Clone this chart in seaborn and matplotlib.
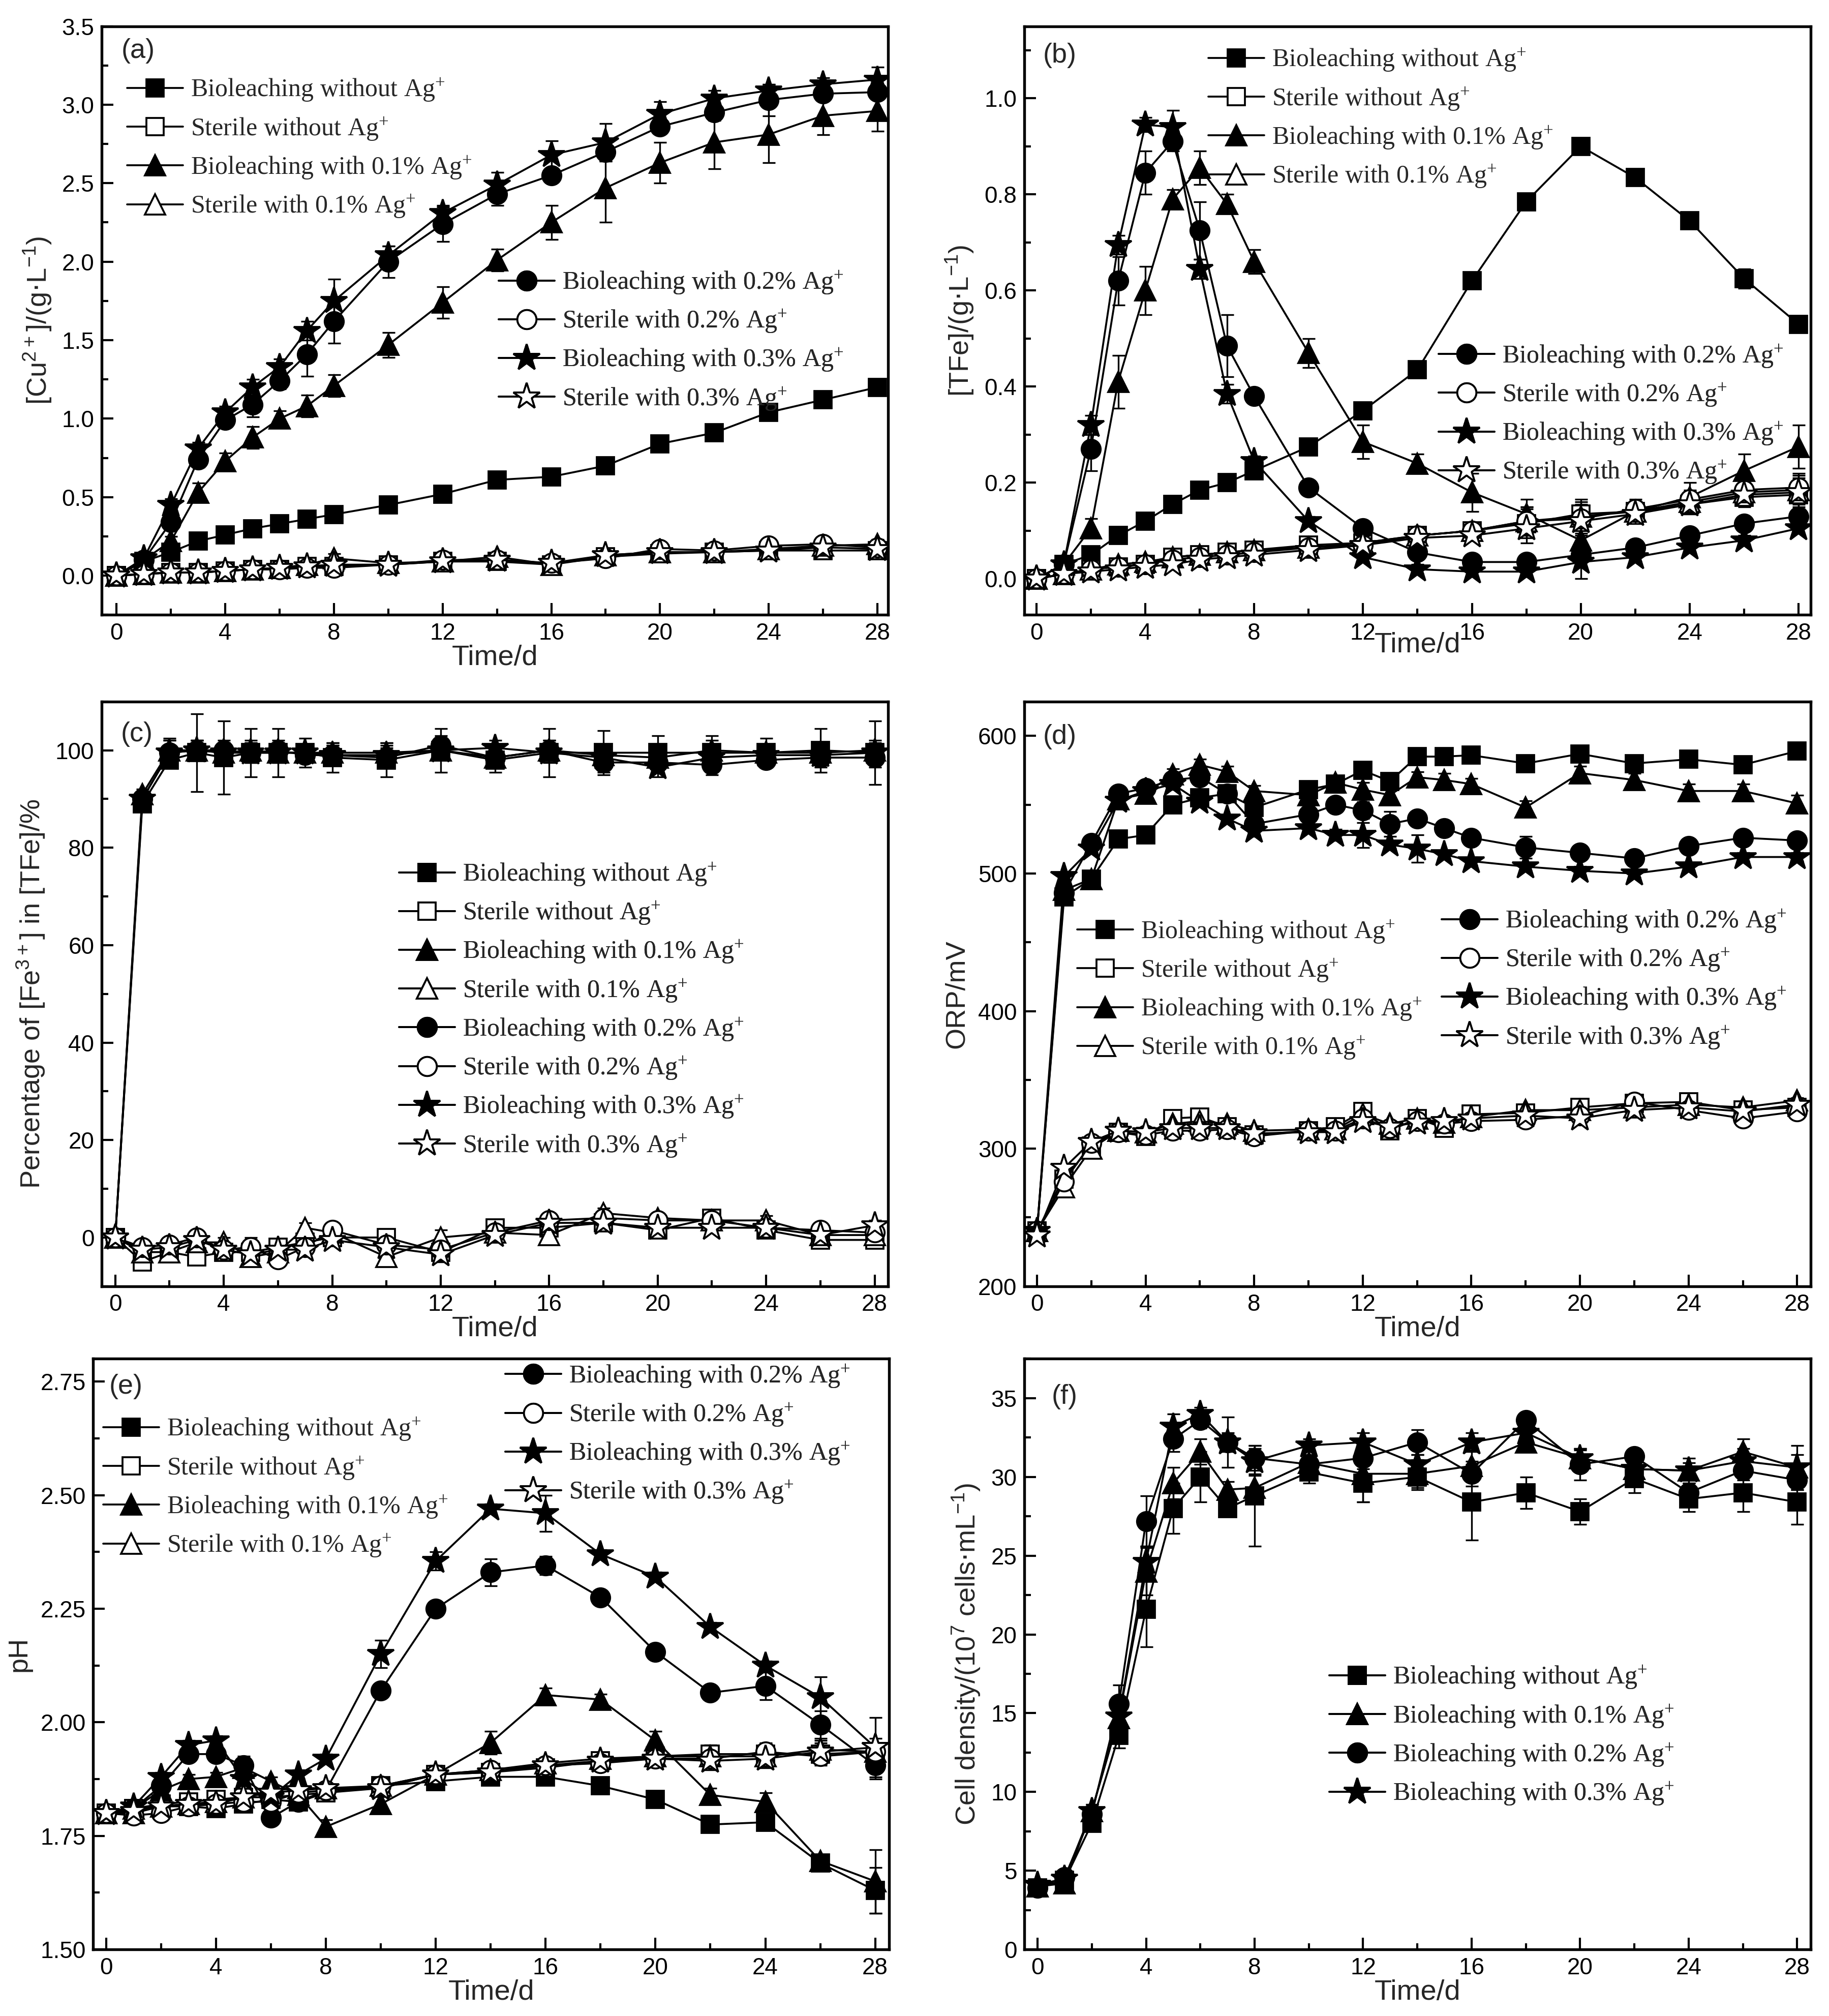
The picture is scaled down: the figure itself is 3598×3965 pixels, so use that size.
import numpy as np
import pandas as pd
import matplotlib
matplotlib.use('Agg')
import matplotlib.pyplot as plt
import seaborn as sns
from matplotlib.ticker import MultipleLocator, FormatStrFormatter

# sampling days
days = [0, 1, 2, 3, 4, 5, 6, 7, 8, 10, 12, 14, 16, 18, 20, 22, 24, 26, 28]
days_orp = [0, 1, 2, 3, 4, 5, 6, 7, 8, 10, 11, 12, 13, 14, 15, 16, 18, 20, 22, 24, 26, 28]

# (a) [Cu2+] g/L
cu_bio_none = [0.00, 0.09, 0.15, 0.22, 0.26, 0.30, 0.33, 0.36, 0.39, 0.45, 0.52, 0.61, 0.63, 0.70, 0.84, 0.91, 1.04, 1.12, 1.20]
cu_ster_none = [0.00, 0.01, 0.02, 0.02, 0.03, 0.04, 0.04, 0.06, 0.06, 0.07, 0.09, 0.09, 0.07, 0.12, 0.14, 0.15, 0.16, 0.16, 0.16]
cu_bio_01 = [0.00, 0.10, 0.22, 0.53, 0.73, 0.88, 1.00, 1.08, 1.21, 1.47, 1.74, 2.01, 2.25, 2.47, 2.63, 2.76, 2.81, 2.93, 2.96]
cu_ster_01 = [0.00, 0.01, 0.02, 0.02, 0.03, 0.04, 0.05, 0.07, 0.11, 0.08, 0.09, 0.12, 0.07, 0.13, 0.15, 0.15, 0.17, 0.19, 0.20]
cu_bio_02 = [0.00, 0.10, 0.34, 0.74, 0.99, 1.09, 1.24, 1.41, 1.62, 2.00, 2.24, 2.43, 2.55, 2.70, 2.86, 2.95, 3.03, 3.07, 3.08]
cu_ster_02 = [0.00, 0.01, 0.02, 0.02, 0.03, 0.04, 0.04, 0.05, 0.05, 0.07, 0.10, 0.10, 0.08, 0.11, 0.17, 0.16, 0.19, 0.20, 0.18]
cu_bio_03 = [0.00, 0.11, 0.45, 0.81, 1.04, 1.20, 1.33, 1.56, 1.75, 2.04, 2.31, 2.49, 2.68, 2.76, 2.94, 3.04, 3.09, 3.13, 3.16]
cu_ster_03 = [0.00, 0.01, 0.02, 0.02, 0.03, 0.04, 0.05, 0.06, 0.07, 0.07, 0.09, 0.10, 0.08, 0.13, 0.15, 0.15, 0.16, 0.18, 0.17]
cu_err_none = [0.01, 0.01, 0.02, 0.02, 0.02, 0.02, 0.02, 0.02, 0.02, 0.02, 0.02, 0.02, 0.02, 0.02, 0.02, 0.02, 0.02, 0.02, 0.02]
cu_err_01 = [0.01, 0.01, 0.03, 0.06, 0.05, 0.07, 0.05, 0.07, 0.07, 0.08, 0.10, 0.07, 0.11, 0.22, 0.13, 0.17, 0.18, 0.12, 0.13]
cu_err_02 = [0.01, 0.01, 0.04, 0.05, 0.04, 0.08, 0.05, 0.14, 0.14, 0.10, 0.11, 0.07, 0.04, 0.06, 0.04, 0.05, 0.10, 0.04, 0.03]
cu_err_03 = [0.01, 0.01, 0.04, 0.04, 0.04, 0.05, 0.05, 0.06, 0.14, 0.06, 0.05, 0.08, 0.09, 0.12, 0.08, 0.05, 0.04, 0.04, 0.08]
cu_err_ster = [0.03, 0.03, 0.03, 0.03, 0.03, 0.03, 0.03, 0.03, 0.03, 0.03, 0.03, 0.03, 0.03, 0.03, 0.03, 0.03, 0.03, 0.03, 0.03]

# (b) [TFe] g/L
fe_bio_none = [0.00, 0.03, 0.05, 0.09, 0.12, 0.155, 0.185, 0.20, 0.225, 0.275, 0.35, 0.435, 0.62, 0.785, 0.90, 0.835, 0.745, 0.625, 0.53]
fe_ster_none = [0.00, 0.01, 0.02, 0.025, 0.03, 0.045, 0.05, 0.055, 0.06, 0.07, 0.075, 0.09, 0.10, 0.115, 0.135, 0.14, 0.155, 0.17, 0.175]
fe_bio_01 = [0.00, 0.03, 0.105, 0.41, 0.60, 0.79, 0.855, 0.78, 0.66, 0.47, 0.285, 0.24, 0.18, 0.135, 0.08, 0.14, 0.17, 0.225, 0.275]
fe_ster_01 = [0.00, 0.01, 0.02, 0.03, 0.035, 0.045, 0.05, 0.055, 0.06, 0.065, 0.075, 0.09, 0.10, 0.12, 0.13, 0.14, 0.16, 0.18, 0.185]
fe_bio_02 = [0.00, 0.03, 0.27, 0.62, 0.845, 0.91, 0.725, 0.485, 0.38, 0.19, 0.105, 0.055, 0.035, 0.035, 0.05, 0.065, 0.09, 0.115, 0.13]
fe_ster_02 = [0.00, 0.01, 0.02, 0.025, 0.03, 0.04, 0.045, 0.05, 0.055, 0.065, 0.07, 0.09, 0.10, 0.12, 0.125, 0.145, 0.165, 0.185, 0.19]
fe_bio_03 = [0.00, 0.03, 0.32, 0.695, 0.945, 0.94, 0.645, 0.385, 0.245, 0.12, 0.045, 0.02, 0.015, 0.015, 0.035, 0.045, 0.065, 0.08, 0.105]
fe_ster_03 = [0.00, 0.01, 0.015, 0.02, 0.025, 0.03, 0.04, 0.045, 0.05, 0.06, 0.07, 0.085, 0.09, 0.105, 0.12, 0.135, 0.155, 0.175, 0.18]
fe_err_none = [0.005, 0.005, 0.01, 0.01, 0.01, 0.01, 0.01, 0.01, 0.01, 0.01, 0.01, 0.01, 0.01, 0.01, 0.01, 0.01, 0.01, 0.02, 0.01]
fe_err_01 = [0.005, 0.005, 0.02, 0.055, 0.05, 0.02, 0.035, 0.02, 0.025, 0.03, 0.035, 0.02, 0.04, 0.03, 0.03, 0.02, 0.03, 0.035, 0.045]
fe_err_02 = [0.005, 0.005, 0.045, 0.05, 0.045, 0.02, 0.06, 0.065, 0.01, 0.01, 0.01, 0.01, 0.01, 0.01, 0.05, 0.01, 0.01, 0.01, 0.01]
fe_err_03 = [0.005, 0.005, 0.02, 0.02, 0.015, 0.035, 0.02, 0.02, 0.01, 0.01, 0.01, 0.01, 0.01, 0.01, 0.01, 0.01, 0.01, 0.01, 0.01]
fe_err_ster = [0.005, 0.005, 0.01, 0.01, 0.01, 0.01, 0.01, 0.01, 0.01, 0.01, 0.01, 0.01, 0.01, 0.03, 0.03, 0.02, 0.02, 0.02, 0.03]

# (c) percentage of Fe3+ in TFe
pct_bio_none = [0.0, 89.0, 98.0, 99.5, 98.5, 99.5, 99.5, 99.5, 98.5, 98.0, 100.0, 98.0, 99.5, 99.5, 99.5, 99.5, 99.5, 100.0, 99.5]
pct_ster_none = [0.0, -5.0, -3.0, -4.0, -3.0, -3.0, -2.0, -1.0, 0.0, 0.0, -3.0, 2.0, 2.0, 3.0, 1.5, 4.0, 1.5, -0.5, -0.5]
pct_bio_01 = [0.0, 91.0, 100.0, 100.0, 99.5, 100.0, 99.5, 99.5, 99.5, 99.5, 100.0, 98.5, 100.0, 99.0, 98.5, 100.0, 99.5, 99.5, 100.0]
pct_ster_01 = [0.0, -3.0, -3.0, -1.0, -1.0, -4.0, -3.0, 2.0, 1.0, -4.0, 0.0, 1.0, 0.5, 5.0, 4.0, 3.5, 3.5, 0.5, 0.5]
pct_bio_02 = [0.0, 90.0, 99.5, 100.0, 100.0, 99.5, 100.0, 99.0, 99.0, 98.5, 101.0, 98.5, 100.0, 97.5, 97.5, 97.0, 98.0, 98.5, 98.5]
pct_ster_02 = [0.0, -2.0, -1.5, 0.0, -2.5, -2.0, -4.5, -2.0, 1.5, -1.5, -2.5, 1.0, 3.5, 4.0, 3.5, 3.5, 2.0, 1.5, 1.0]
pct_bio_03 = [0.0, 90.0, 99.5, 100.0, 99.5, 99.5, 99.5, 99.5, 99.0, 99.0, 100.0, 100.5, 99.5, 98.5, 96.5, 98.5, 99.0, 99.0, 99.5]
pct_ster_03 = [0.0, -2.5, -2.0, -0.5, -2.5, -3.5, -2.5, -2.5, -0.5, -2.0, -3.5, 0.5, 3.0, 3.0, 2.0, 2.0, 2.0, 0.5, 2.5]
pct_err_none = [0.5, 1.0, 1.5, 8.0, 7.5, 5.0, 5.0, 3.0, 3.0, 3.5, 4.5, 2.5, 5.0, 4.5, 3.5, 3.5, 3.0, 4.5, 6.5]
pct_err_bio = [0.5, 1.0, 2.5, 2.0, 2.0, 2.0, 2.0, 1.5, 2.0, 2.0, 2.0, 1.5, 2.0, 2.0, 2.0, 2.0, 1.5, 2.0, 2.0]
pct_err_ster = [0.5, 1.0, 1.0, 1.0, 1.0, 2.0, 1.5, 1.0, 1.0, 1.0, 1.5, 1.0, 1.5, 1.0, 1.0, 1.0, 1.0, 1.0, 1.0]

# (d) ORP mV
orp_bio_none = [240, 483, 496, 525, 528, 550, 555, 558, 548, 561, 565, 575, 567, 585, 585, 586, 580, 587, 580, 583, 579, 589]
orp_ster_none = [240, 278, 302, 312, 309, 322, 323, 316, 310, 313, 316, 327, 313, 322, 315, 325, 326, 330, 333, 334, 328, 330]
orp_bio_01 = [240, 488, 496, 554, 558, 572, 579, 574, 560, 557, 566, 561, 557, 570, 568, 565, 548, 573, 568, 560, 560, 551]
orp_ster_01 = [240, 272, 300, 313, 312, 318, 320, 318, 313, 314, 314, 325, 318, 322, 319, 323, 328, 328, 330, 332, 330, 335]
orp_bio_02 = [240, 486, 522, 558, 562, 568, 570, 558, 536, 543, 550, 546, 536, 540, 533, 526, 519, 515, 511, 520, 526, 524]
orp_ster_02 = [240, 276, 304, 312, 310, 313, 313, 314, 309, 313, 313, 322, 315, 320, 318, 320, 321, 324, 334, 328, 322, 327]
orp_bio_03 = [240, 498, 518, 553, 560, 565, 552, 540, 531, 533, 528, 528, 521, 518, 514, 509, 505, 502, 500, 505, 512, 512]
orp_ster_03 = [237, 286, 305, 313, 312, 315, 315, 315, 311, 312, 312, 320, 316, 319, 320, 322, 324, 322, 328, 330, 327, 332]
orp_err_none = [2, 3, 3, 3, 3, 3, 3, 3, 3, 3, 3, 3, 3, 3, 3, 3, 3, 3, 3, 3, 3, 3]
orp_err_01 = [2, 4, 4, 4, 4, 4, 4, 4, 4, 3, 4, 5, 4, 4, 5, 4, 5, 5, 5, 5, 5, 6]
orp_err_02 = [2, 3, 3, 3, 3, 3, 4, 4, 3, 4, 5, 6, 9, 3, 4, 3, 8, 4, 3, 3, 3, 3]
orp_err_03 = [2, 3, 3, 3, 3, 3, 3, 3, 4, 3, 4, 9, 3, 10, 3, 3, 3, 3, 3, 3, 3, 3]
orp_err_ster = [2, 2, 2, 2, 2, 2, 2, 2, 2, 2, 2, 2, 2, 2, 2, 2, 2, 2, 2, 2, 2, 2]

# (e) pH
ph_bio_none = [1.80, 1.81, 1.815, 1.815, 1.81, 1.82, 1.83, 1.825, 1.845, 1.86, 1.87, 1.88, 1.88, 1.86, 1.83, 1.775, 1.78, 1.69, 1.63]
ph_ster_none = [1.80, 1.81, 1.82, 1.825, 1.83, 1.835, 1.835, 1.84, 1.845, 1.855, 1.885, 1.89, 1.90, 1.915, 1.925, 1.93, 1.93, 1.93, 1.935]
ph_bio_01 = [1.80, 1.81, 1.85, 1.875, 1.88, 1.90, 1.87, 1.84, 1.77, 1.82, 1.885, 1.955, 2.06, 2.05, 1.96, 1.84, 1.825, 1.695, 1.65]
ph_ster_01 = [1.80, 1.80, 1.815, 1.82, 1.825, 1.835, 1.85, 1.855, 1.855, 1.86, 1.885, 1.895, 1.91, 1.92, 1.925, 1.925, 1.925, 1.94, 1.935]
ph_bio_02 = [1.80, 1.81, 1.86, 1.93, 1.93, 1.905, 1.79, 1.825, 1.85, 2.07, 2.25, 2.33, 2.345, 2.275, 2.155, 2.065, 2.08, 1.995, 1.905]
ph_ster_02 = [1.80, 1.795, 1.80, 1.815, 1.82, 1.825, 1.825, 1.845, 1.85, 1.86, 1.885, 1.895, 1.905, 1.91, 1.92, 1.92, 1.935, 1.925, 1.935]
ph_bio_03 = [1.80, 1.815, 1.88, 1.95, 1.96, 1.875, 1.835, 1.885, 1.92, 2.15, 2.355, 2.47, 2.46, 2.37, 2.32, 2.21, 2.125, 2.055, 1.945]
ph_ster_03 = [1.80, 1.805, 1.815, 1.82, 1.82, 1.835, 1.845, 1.85, 1.855, 1.855, 1.885, 1.89, 1.905, 1.915, 1.92, 1.915, 1.92, 1.935, 1.945]
ph_err_none = [0.005, 0.005, 0.01, 0.01, 0.01, 0.01, 0.01, 0.01, 0.01, 0.01, 0.01, 0.01, 0.01, 0.01, 0.01, 0.01, 0.01, 0.01, 0.05]
ph_err_01 = [0.005, 0.005, 0.01, 0.01, 0.01, 0.01, 0.01, 0.01, 0.015, 0.02, 0.02, 0.025, 0.015, 0.012, 0.02, 0.015, 0.02, 0.01, 0.07]
ph_err_02 = [0.005, 0.005, 0.01, 0.01, 0.01, 0.02, 0.01, 0.01, 0.01, 0.01, 0.015, 0.03, 0.02, 0.01, 0.01, 0.01, 0.03, 0.03, 0.03]
ph_err_03 = [0.005, 0.005, 0.01, 0.01, 0.01, 0.01, 0.01, 0.01, 0.01, 0.03, 0.02, 0.01, 0.04, 0.01, 0.01, 0.01, 0.01, 0.045, 0.065]
ph_err_ster = [0.005, 0.005, 0.01, 0.01, 0.01, 0.01, 0.01, 0.01, 0.01, 0.01, 0.01, 0.01, 0.01, 0.01, 0.01, 0.02, 0.02, 0.02, 0.02]

# (f) cell density 10^7 cells/mL
cell_bio_none = [3.9, 4.4, 8.0, 13.6, 21.6, 28.0, 30.0, 28.0, 28.8, 30.3, 29.6, 30.0, 28.4, 29.0, 27.8, 29.9, 28.6, 29.0, 28.4]
cell_bio_01 = [4.0, 4.2, 8.8, 14.7, 24.0, 29.6, 31.6, 29.2, 29.3, 30.9, 30.2, 30.2, 30.7, 32.2, 31.2, 30.5, 30.4, 31.6, 30.6]
cell_bio_02 = [3.9, 4.6, 8.6, 15.6, 27.2, 32.4, 33.6, 32.2, 31.2, 30.8, 31.2, 32.2, 30.2, 33.6, 30.8, 31.3, 29.0, 30.4, 29.8]
cell_bio_03 = [4.1, 4.5, 8.8, 14.8, 24.6, 33.2, 34.0, 32.2, 31.0, 32.0, 32.2, 30.8, 32.2, 32.8, 31.2, 30.5, 30.4, 31.0, 30.6]
cell_err_none = [0.2, 0.3, 0.3, 0.8, 2.4, 1.6, 1.6, 0.3, 3.2, 0.7, 1.2, 0.8, 2.4, 1.0, 0.8, 0.9, 0.8, 1.2, 1.4]
cell_err_01 = [0.2, 0.5, 0.4, 1.0, 1.5, 1.0, 0.8, 0.5, 0.8, 0.5, 1.8, 0.9, 1.0, 0.6, 0.6, 0.6, 0.5, 0.8, 0.8]
cell_err_02 = [0.2, 0.3, 0.4, 1.2, 1.6, 0.8, 0.5, 1.6, 0.8, 0.5, 0.7, 0.8, 0.8, 0.5, 1.0, 0.5, 0.6, 0.6, 0.6]
cell_err_03 = [0.2, 0.3, 0.4, 0.8, 1.0, 0.8, 0.4, 0.6, 0.8, 0.4, 0.6, 0.6, 0.6, 0.6, 0.5, 0.4, 0.8, 0.8, 1.4]

sup = r'$\mathregular{^{+}}$'
names = ['Bioleaching without Ag' + sup, 'Sterile without Ag' + sup,
         'Bioleaching with 0.1% Ag' + sup, 'Sterile with 0.1% Ag' + sup,
         'Bioleaching with 0.2% Ag' + sup, 'Sterile with 0.2% Ag' + sup,
         'Bioleaching with 0.3% Ag' + sup, 'Sterile with 0.3% Ag' + sup]
markers = ['s', 's', '^', '^', 'o', 'o', '*', '*']
filled = [True, False, True, False, True, False, True, False]
msizes = {'s': 8, '^': 9.5, 'o': 9, '*': 13}

sns.set_theme(style='ticks')
plt.rcParams['font.family'] = ['Liberation Sans', 'DejaVu Sans']
plt.rcParams['axes.linewidth'] = 1.3
plt.rcParams['xtick.direction'] = 'in'
plt.rcParams['ytick.direction'] = 'in'
plt.rcParams['xtick.major.size'] = 5.5
plt.rcParams['ytick.major.size'] = 5.5
plt.rcParams['xtick.minor.size'] = 3
plt.rcParams['ytick.minor.size'] = 3
plt.rcParams['xtick.major.width'] = 1.0
plt.rcParams['ytick.major.width'] = 1.0
plt.rcParams['xtick.minor.width'] = 1.0
plt.rcParams['ytick.minor.width'] = 1.0
plt.rcParams['axes.edgecolor'] = 'black'

fig = plt.figure(figsize=(3598 / 300, 3965 / 300), dpi=300)


def draw_series(ax, x, y, err, idx):
    df = pd.DataFrame({'Time': x, 'Value': y})
    m = markers[idx]
    if err is not None:
        ax.errorbar(x, y, yerr=err, fmt='none', ecolor='black', elinewidth=0.8,
                    capsize=3, capthick=0.8, zorder=2)
    sns.lineplot(data=df, x='Time', y='Value', ax=ax, color='black', linewidth=0.9,
                 marker=m, markersize=msizes[m],
                 markerfacecolor='black' if filled[idx] else 'white',
                 markeredgecolor='black', markeredgewidth=0.9,
                 label=names[idx], legend=False, zorder=3)
    return ax.lines[-1]


def add_legend(ax, handles, x, y):
    leg = ax.legend(handles=handles, loc='upper left', bbox_to_anchor=(x, y),
                    frameon=False, prop={'family': 'Liberation Serif', 'size': 12},
                    handlelength=2.2, handletextpad=0.3, labelspacing=0.46,
                    borderpad=0, borderaxespad=0, numpoints=1)
    ax.add_artist(leg)


def style_axes(ax, xlim, ylim, ymaj, ymin, fmt, ylabel, tag, tagpos, xlabelpad=0):
    ax.set_xlim(*xlim)
    ax.set_ylim(*ylim)
    ax.xaxis.set_major_locator(MultipleLocator(4))
    ax.xaxis.set_minor_locator(MultipleLocator(2))
    ax.yaxis.set_major_locator(MultipleLocator(ymaj))
    ax.yaxis.set_minor_locator(MultipleLocator(ymin))
    ax.yaxis.set_major_formatter(FormatStrFormatter(fmt))
    ax.tick_params(which='both', top=False, right=False, labelsize=11, colors='black')
    ax.set_xlabel('Time/d', fontsize=13.5, labelpad=xlabelpad)
    ax.set_ylabel(ylabel, fontsize=13)
    ax.text(tagpos[0], tagpos[1], tag, transform=ax.transAxes, fontsize=13,
            ha='left', va='center')
    for s in ax.spines.values():
        s.set_visible(True)


# (a)
ax = fig.add_axes([0.0556, 0.695, 0.430, 0.292])
series = [cu_bio_none, cu_ster_none, cu_bio_01, cu_ster_01, cu_bio_02, cu_ster_02, cu_bio_03, cu_ster_03]
errs = [cu_err_none, cu_err_ster, cu_err_01, cu_err_ster, cu_err_02, cu_err_ster, cu_err_03, cu_err_ster]
h = [draw_series(ax, days, s, e, i) for i, (s, e) in enumerate(zip(series, errs))]
style_axes(ax, (-0.55, 28.4), (-0.25, 3.5), 0.5, 0.25, '%.1f',
           r'[Cu$\mathregular{^{2+}}$]/(g$\cdot$L$\mathregular{^{-1}}$)', '(a)', (0.025, 0.958))
add_legend(ax, h[:4], 0.032, 0.914)
add_legend(ax, h[4:], 0.505, 0.587)

# (b)
ax = fig.add_axes([0.560, 0.695, 0.430, 0.292])
series = [fe_bio_none, fe_ster_none, fe_bio_01, fe_ster_01, fe_bio_02, fe_ster_02, fe_bio_03, fe_ster_03]
errs = [fe_err_none, fe_err_ster, fe_err_01, fe_err_ster, fe_err_02, fe_err_ster, fe_err_03, fe_err_ster]
h = [draw_series(ax, days, s, e, i) for i, (s, e) in enumerate(zip(series, errs))]
style_axes(ax, (-0.45, 28.45), (-0.075, 1.15), 0.2, 0.1, '%.1f',
           r'[TFe]/(g$\cdot$L$\mathregular{^{-1}}$)', '(b)', (0.024, 0.95), xlabelpad=-6)
add_legend(ax, h[:4], 0.234, 0.965)
add_legend(ax, h[4:], 0.527, 0.462)

# (c)
ax = fig.add_axes([0.0556, 0.362, 0.430, 0.290])
series = [pct_bio_none, pct_ster_none, pct_bio_01, pct_ster_01, pct_bio_02, pct_ster_02, pct_bio_03, pct_ster_03]
errs = [pct_err_none, pct_err_ster, pct_err_bio, pct_err_ster, pct_err_bio, pct_err_ster, pct_err_bio, pct_err_ster]
h = [draw_series(ax, days, s, e, i) for i, (s, e) in enumerate(zip(series, errs))]
style_axes(ax, (-0.5, 28.5), (-10, 110), 20, 10, '%d',
           r'Percentage of [Fe$\mathregular{^{3+}}$] in [TFe]/%', '(c)', (0.024, 0.944))
add_legend(ax, h, 0.378, 0.727)

# (d)
ax = fig.add_axes([0.560, 0.362, 0.430, 0.290])
series = [orp_bio_none, orp_ster_none, orp_bio_01, orp_ster_01, orp_bio_02, orp_ster_02, orp_bio_03, orp_ster_03]
errs = [orp_err_none, orp_err_ster, orp_err_01, orp_err_ster, orp_err_02, orp_err_ster, orp_err_03, orp_err_ster]
h = [draw_series(ax, days_orp, s, e, i) for i, (s, e) in enumerate(zip(series, errs))]
style_axes(ax, (-0.47, 28.5), (200, 625), 100, 50, '%d', 'ORP/mV', '(d)', (0.024, 0.94))
add_legend(ax, h[:4], 0.067, 0.629)
add_legend(ax, h[4:], 0.531, 0.647)

# (e)
ax = fig.add_axes([0.051, 0.033, 0.435, 0.293])
series = [ph_bio_none, ph_ster_none, ph_bio_01, ph_ster_01, ph_bio_02, ph_ster_02, ph_bio_03, ph_ster_03]
errs = [ph_err_none, ph_err_ster, ph_err_01, ph_err_ster, ph_err_02, ph_err_ster, ph_err_03, ph_err_ster]
h = [draw_series(ax, days, s, e, i) for i, (s, e) in enumerate(zip(series, errs))]
style_axes(ax, (-0.47, 28.5), (1.5, 2.8), 0.25, 0.125, '%.2f', 'pH', '(e)', (0.02, 0.953))
add_legend(ax, h[:4], 0.0125, 0.903)
add_legend(ax, h[4:], 0.518, 0.993)

# (f)
ax = fig.add_axes([0.560, 0.033, 0.430, 0.293])
series = [cell_bio_none, cell_bio_01, cell_bio_02, cell_bio_03]
errs = [cell_err_none, cell_err_01, cell_err_02, cell_err_03]
h = [draw_series(ax, days, s, e, i) for i, (s, e) in zip([0, 2, 4, 6], zip(series, errs))]
style_axes(ax, (-0.49, 28.5), (0, 37.5), 5, 2.5, '%d',
           r'Cell density/(10$\mathregular{^{7}}$ cells$\cdot$mL$\mathregular{^{-1}}$)', '(f)', (0.035, 0.936))
add_legend(ax, h, 0.388, 0.483)

fig.savefig('out.png', dpi=300)
